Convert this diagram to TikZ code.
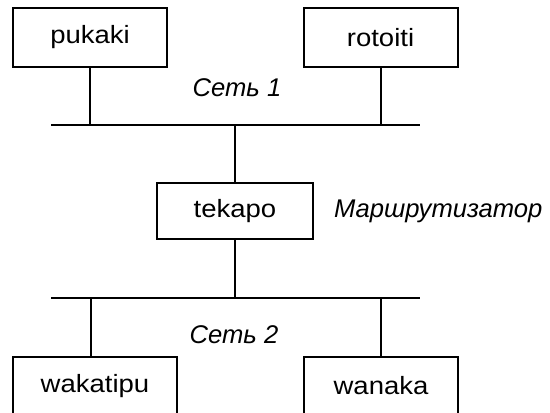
\documentclass[tikz,border=0pt]{standalone}
\usepackage{fontspec}
\setmainfont[FakeStretch=1.1]{Liberation Sans}
\newfontfamily\lblfont{Liberation Sans}
\begin{document}
\begin{tikzpicture}[x=0.5pt,y=-0.5pt,
  line width=1pt,
  host/.style={draw,rectangle,inner sep=0pt,minimum width=154pt*0.5,minimum height=59pt*0.5,font=\fontsize{12.5pt}{14pt}\selectfont},
  lbl/.style={font=\fontsize{12.8pt}{14pt}\lblfont\itshape,inner sep=0pt,anchor=base}]
\clip (0,0) rectangle (550,412);
\fill[white] (0,0) rectangle (550,412);
% buses
\coordinate (b1l) at (51,125);
\coordinate (b1r) at (420,125);
\coordinate (b2l) at (51,298);
\coordinate (b2r) at (420,298);
\coordinate (wtap) at (91,298);
\draw (b1l) -- (b1r);
\draw (b2l) -- (b2r);
% hosts
\node[host] (pukaki) at (90,37.5) {pukaki};
\node[host] (rotoiti) at (380.5,37.5) {rotoiti};
\node[host,minimum width=78pt,minimum height=28pt] (tekapo) at (235,211) {tekapo};
\node[host,minimum width=82pt] (wakatipu) at (95,386) {wakatipu};
\node[host] (wanaka) at (381,386) {wanaka};
% connectors
\draw (pukaki.south) -- (pukaki.south |- b1l);
\draw (rotoiti.south) -- (rotoiti.south |- b1l);
\draw (tekapo.north) -- (tekapo.north |- b1l);
\draw (tekapo.south) -- (tekapo.south |- b2l);
\draw (wtap) -- (wtap |- wakatipu.north);
\draw (wanaka.north) -- (wanaka.north |- b2l);
% labels
\node[lbl] (net1) at (237,96) {Сеть 1};
\node[lbl] (net2) at (234,343) {Сеть 2};
\node[lbl,anchor=base west] (router) at (333,217) {Маршрутизатор};
\end{tikzpicture}
\end{document}
